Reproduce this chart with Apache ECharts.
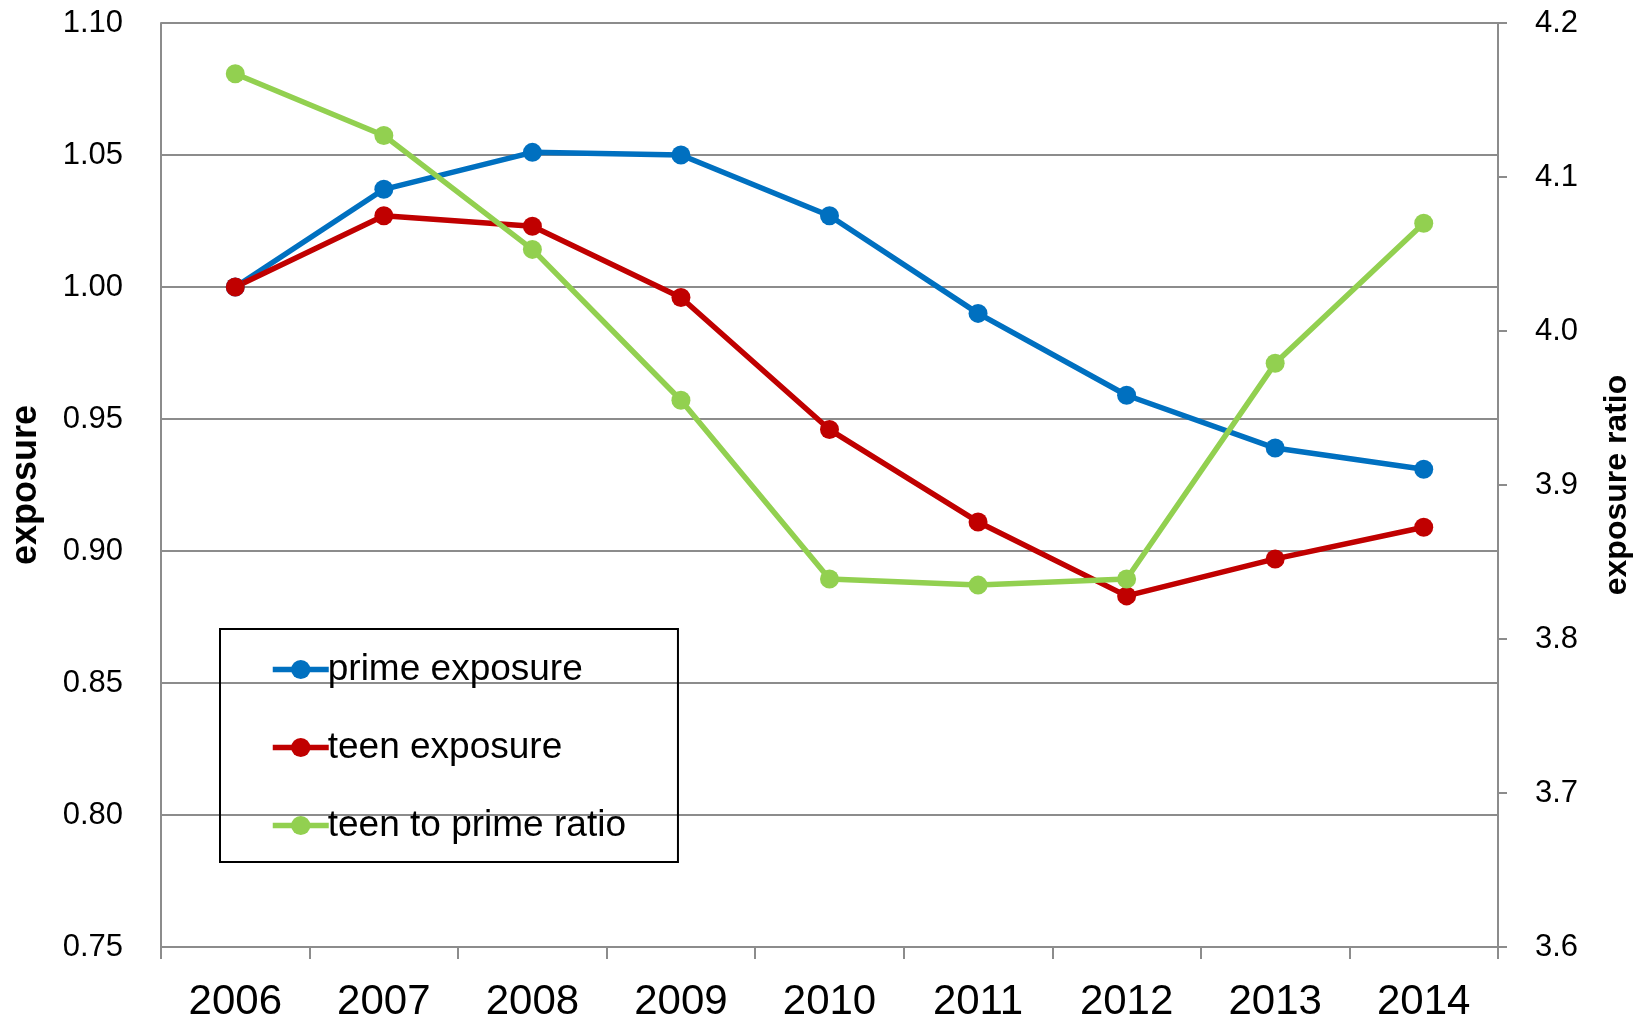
<!DOCTYPE html>
<html>
<head>
<meta charset="utf-8">
<script src="https://cdn.jsdelivr.net/npm/echarts@6/dist/echarts.min.js"></script>
<style>
html,body{margin:0;padding:0;background:#fff;}
#chart{width:1643px;height:1018px;}
</style>
</head>
<body>
<div id="chart"></div>
<script>
// data
var years = ['2006','2007','2008','2009','2010','2011','2012','2013','2014'];
var primeExposure = [1.000, 1.037, 1.051, 1.050, 1.027, 0.990, 0.959, 0.939, 0.931];
var teenExposure = [1.000, 1.027, 1.023, 0.996, 0.946, 0.911, 0.883, 0.897, 0.909];
var teenPrimeRatio = [4.167, 4.127, 4.053, 3.955, 3.839, 3.835, 3.839, 3.979, 4.070];

var font = 'Liberation Sans, Arial, sans-serif';
var gridColor = '#8c8c8c';

function lineSeries(name, data, color, axis) {
	return {
		name: name,
		type: 'line',
		yAxisIndex: axis,
		data: data,
		symbol: 'circle',
		symbolSize: 19,
		lineStyle: {width: 5.5, color: color},
		itemStyle: {color: color},
		animation: false
	};
}

var chart = echarts.init(document.getElementById('chart'));
chart.setOption({
	backgroundColor: '#fff',
	grid: {left: 161, top: 23, right: 145, bottom: 71, outerBoundsMode: 'none', containLabel: false},
	legend: {
		left: 220,
		top: 629,
		orient: 'vertical',
		padding: [22, 52, 18, 50],
		itemGap: 41,
		itemWidth: 56,
		itemHeight: 24,
		borderColor: '#000',
		borderWidth: 2,
		lineStyle: {width: 5.5},
		textStyle: {fontFamily: font, fontSize: 37, color: '#000', padding: [0, 0, 0, -6]},
		data: ['prime exposure', 'teen exposure', 'teen to prime ratio']
	},
	xAxis: {
		type: 'category',
		data: years,
		boundaryGap: true,
		axisLine: {lineStyle: {color: gridColor, width: 2}},
		axisTick: {show: true, length: 12, inside: false, lineStyle: {color: gridColor, width: 2}},
		axisLabel: {fontFamily: font, fontSize: 42, color: '#000', margin: 34}
	},
	yAxis: [{
		type: 'value',
		min: 0.75,
		max: 1.10,
		interval: 0.05,
		name: 'exposure',
		nameLocation: 'middle',
		nameGap: 117,
		nameRotate: 90,
		nameTextStyle: {fontFamily: font, fontSize: 36, fontWeight: 'bold', color: '#000'},
		axisLine: {show: true, lineStyle: {color: gridColor, width: 2}},
		axisTick: {show: false},
		axisLabel: {fontFamily: font, fontSize: 31, color: '#000', margin: 38,
			formatter: function (v) { return v.toFixed(2); }},
		splitLine: {lineStyle: {color: gridColor, width: 2}}
	}, {
		type: 'value',
		min: 3.6,
		max: 4.2,
		interval: 0.1,
		name: 'exposure ratio',
		nameLocation: 'middle',
		nameGap: 103,
		nameRotate: 90,
		nameTextStyle: {fontFamily: font, fontSize: 32, fontWeight: 'bold', color: '#000'},
		axisLine: {show: true, lineStyle: {color: gridColor, width: 2}},
		axisTick: {show: true, length: 9, inside: false, lineStyle: {color: gridColor, width: 2}},
		axisLabel: {fontFamily: font, fontSize: 31, color: '#000', margin: 37,
			formatter: function (v) { return v.toFixed(1); }},
		splitLine: {show: false}
	}],
	series: [
		lineSeries('prime exposure', primeExposure, '#0070C0', 0),
		lineSeries('teen exposure', teenExposure, '#C00000', 0),
		lineSeries('teen to prime ratio', teenPrimeRatio, '#92D050', 1)
	]
});
</script>
</body>
</html>
